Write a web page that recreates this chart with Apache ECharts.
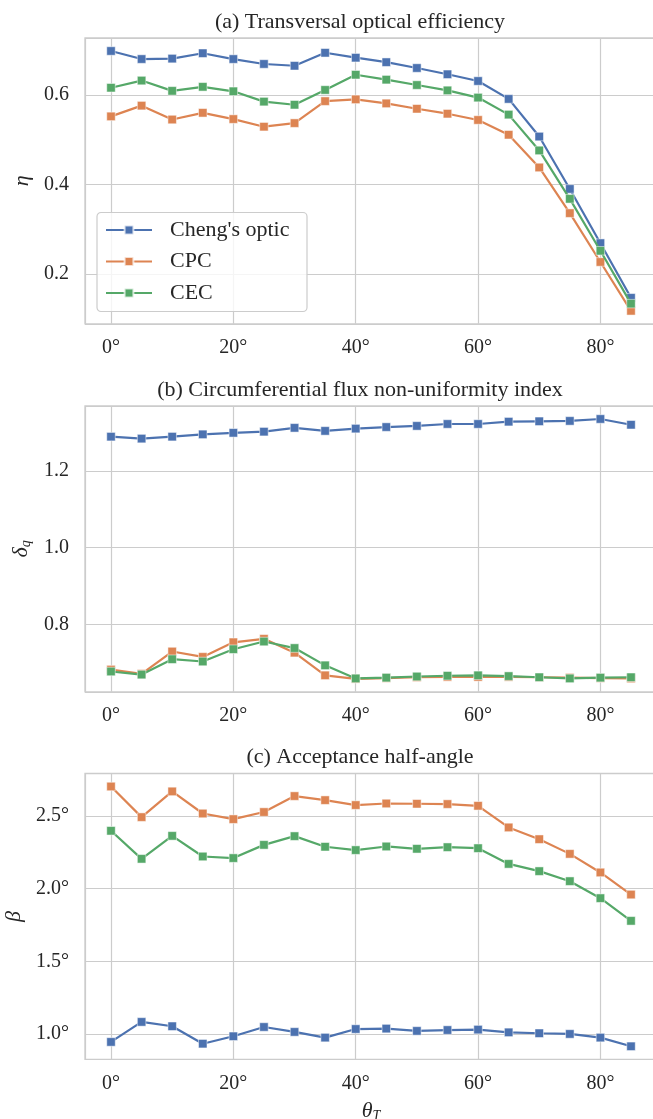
<!DOCTYPE html>
<html>
<head>
<meta charset="utf-8">
<script src="https://cdn.jsdelivr.net/npm/echarts@6/dist/echarts.min.js"></script>
<style>
  html, body { margin: 0; padding: 0; background: #ffffff; }
  #chart { width: 653px; height: 1119px; }
</style>
</head>
<body>
<div id="chart"></div>
<script>
// Incidence angle theta_T (degrees)
const thetaT = [0, 5, 10, 15, 20, 25, 30, 35, 40, 45, 50, 55, 60, 65, 70, 75, 80, 85];
const seriesNames = ["Cheng's optic", 'CPC', 'CEC'];
const panelTitles = [
  '(a) Transversal optical efficiency',
  '(b) Circumferential flux non-uniformity index',
  '(c) Acceptance half-angle'
];

// (a) transversal optical efficiency eta
const etaCheng = [0.698, 0.680, 0.681, 0.693, 0.680, 0.669, 0.665, 0.694, 0.683, 0.673, 0.660, 0.646, 0.631, 0.591, 0.507, 0.390, 0.269, 0.147];
const etaCPC   = [0.552, 0.576, 0.545, 0.560, 0.546, 0.529, 0.537, 0.586, 0.590, 0.581, 0.569, 0.558, 0.544, 0.511, 0.438, 0.336, 0.227, 0.118];
const etaCEC   = [0.616, 0.632, 0.609, 0.618, 0.608, 0.585, 0.578, 0.611, 0.645, 0.634, 0.622, 0.610, 0.594, 0.556, 0.476, 0.368, 0.252, 0.134];

// (b) circumferential flux non-uniformity index delta_q
const deltaCheng = [1.289, 1.284, 1.289, 1.295, 1.299, 1.302, 1.312, 1.304, 1.310, 1.314, 1.317, 1.322, 1.322, 1.328, 1.329, 1.330, 1.335, 1.320];
const deltaCPC   = [0.683, 0.672, 0.730, 0.716, 0.754, 0.763, 0.727, 0.668, 0.659, 0.661, 0.663, 0.664, 0.664, 0.664, 0.663, 0.662, 0.661, 0.660];
const deltaCEC   = [0.678, 0.670, 0.710, 0.704, 0.736, 0.756, 0.739, 0.694, 0.660, 0.662, 0.665, 0.667, 0.668, 0.666, 0.663, 0.660, 0.662, 0.663];

// (c) acceptance half-angle beta (degrees)
const betaCheng = [0.945, 1.083, 1.053, 0.933, 0.984, 1.048, 1.014, 0.975, 1.034, 1.037, 1.021, 1.027, 1.030, 1.011, 1.005, 1.000, 0.975, 0.915];
const betaCPC   = [2.704, 2.493, 2.670, 2.518, 2.479, 2.528, 2.638, 2.610, 2.576, 2.587, 2.585, 2.583, 2.571, 2.422, 2.341, 2.240, 2.112, 1.960];
const betaCEC   = [2.399, 2.206, 2.364, 2.222, 2.211, 2.302, 2.362, 2.289, 2.266, 2.291, 2.275, 2.286, 2.279, 2.171, 2.121, 2.052, 1.935, 1.779];

// Tick spacing per axis
const xTickStep = 20;
const yTickSteps = [0.2, 0.2, 0.5];

const COLORS = ['#4c72b0', '#dd8452', '#55a868'];
const FONT = 'Liberation Serif';
const GRID_COLOR = '#cccccc';
const INK = '#262626';

// axis range padded by 5% of the data span on each side
function padded(values) {
  const lo = Math.min(...values), hi = Math.max(...values);
  const m = (hi - lo) * 0.05;
  return [lo - m, hi + m];
}
function onStep(v, step) {
  const r = v / step;
  return Math.abs(r - Math.round(r)) < 1e-6;
}

const panels = [
  { data: [etaCheng, etaCPC, etaCEC], top: 38, name: 'η', nameGap: 40, fmt: v => v.toFixed(1) },
  { data: [deltaCheng, deltaCPC, deltaCEC], top: 406, name: '{g|δ}{s|q}', nameGap: 43, fmt: v => v.toFixed(1) },
  { data: [betaCheng, betaCPC, betaCEC], top: 773.5, name: 'β', nameGap: 52, fmt: v => v.toFixed(1) + '°' }
];
const PANEL_H = 285.8;

const xRange = padded(thetaT);

const grids = [], xAxes = [], yAxes = [], series = [], graphics = [];
panels.forEach((p, k) => {
  grids.push({
    left: 85, right: -4, top: p.top, height: PANEL_H,
    containLabel: false, outerBoundsMode: 'none',
    show: true, borderColor: GRID_COLOR, borderWidth: 1.3, backgroundColor: '#ffffff'
  });
  xAxes.push({
    type: 'value', gridIndex: k,
    min: xRange[0], max: xRange[1],
    minInterval: xTickStep, maxInterval: xTickStep,
    axisLine: { show: false }, axisTick: { show: false },
    splitLine: { show: true, lineStyle: { color: GRID_COLOR, width: 1.2 } },
    axisLabel: {
      margin: 14, color: INK, fontFamily: FONT, fontSize: 20,
      formatter: v => onStep(v, xTickStep) ? Math.round(v) + '°' : ''
    },
    name: k === 2 ? '{t|θ}{s|T}' : '',
    nameLocation: 'middle', nameGap: 40,
    nameTextStyle: {
      rich: {
        t: { fontFamily: FONT, fontSize: 22, fontStyle: 'italic', color: INK },
        s: { fontFamily: FONT, fontSize: 14, fontStyle: 'italic', color: INK, padding: [10, 0, 0, 0] }
      }
    }
  });
  const yr = padded([].concat(...p.data));
  yAxes.push({
    type: 'value', gridIndex: k,
    min: yr[0], max: yr[1],
    minInterval: yTickSteps[k], maxInterval: yTickSteps[k],
    axisLine: { show: false }, axisTick: { show: false },
    splitLine: { show: true, lineStyle: { color: GRID_COLOR, width: 1.2 } },
    axisLabel: {
      margin: 16, color: INK, fontFamily: FONT, fontSize: 20,
      formatter: v => onStep(v, yTickSteps[k]) ? p.fmt(v) : ''
    },
    name: p.name, nameLocation: 'middle', nameRotate: 90, nameGap: p.nameGap,
    nameTextStyle: {
      fontFamily: FONT, fontSize: 22, fontStyle: 'italic', color: INK,
      rich: {
        g: { fontFamily: FONT, fontSize: 22, fontStyle: 'italic', color: INK },
        s: { fontFamily: FONT, fontSize: 14, fontStyle: 'italic', color: INK, padding: [10, 0, 0, 0] }
      }
    }
  });
  p.data.forEach((arr, j) => {
    series.push({
      type: 'line', name: seriesNames[j],
      xAxisIndex: k, yAxisIndex: k,
      data: thetaT.map((t, i) => [t, arr[i]]),
      symbol: 'rect', symbolSize: 8.5,
      lineStyle: { color: COLORS[j], width: 2.2 },
      itemStyle: { color: COLORS[j], borderColor: 'rgba(255,255,255,0.7)', borderWidth: 0.7 },
      emphasis: { disabled: true },
      animation: false, z: 2 + j
    });
  });
  graphics.push({
    type: 'text', x: 360, y: p.top - 16,
    style: {
      text: panelTitles[k], fontFamily: FONT, fontSize: 22, fill: INK,
      textAlign: 'center', textVerticalAlign: 'middle'
    }
  });
});

// legend frame inside panel (a)
graphics.push({
  type: 'rect', x: 97, y: 212.5, z: 10,
  shape: { width: 210, height: 99, r: 4 },
  style: { fill: 'rgba(255,255,255,0.8)', stroke: GRID_COLOR, lineWidth: 1.2 }
});

const chart = echarts.init(document.getElementById('chart'), null, { renderer: 'canvas' });
chart.setOption({
  animation: false,
  backgroundColor: '#ffffff',
  textStyle: { fontFamily: FONT },
  grid: grids,
  xAxis: xAxes,
  yAxis: yAxes,
  series: series,
  legend: {
    data: seriesNames,
    orient: 'vertical', left: 105, top: 219, z: 20,
    padding: 0, itemGap: 9.5, itemWidth: 46, itemHeight: 11,
    selectedMode: false,
    textStyle: { fontFamily: FONT, fontSize: 22, color: INK, padding: [0, 0, 0, 13] }
  },
  graphic: graphics
});
</script>
</body>
</html>
